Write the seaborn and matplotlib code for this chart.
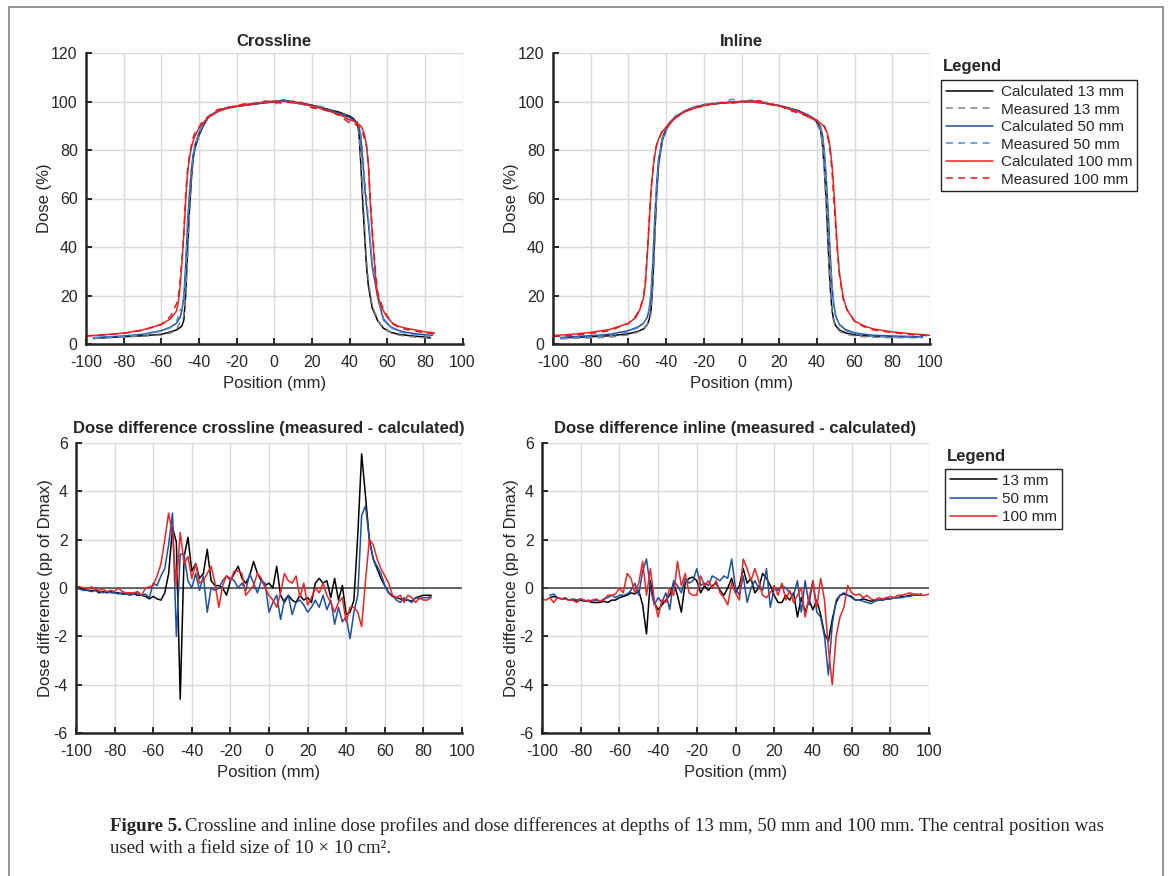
import matplotlib
matplotlib.use("Agg")
import matplotlib.pyplot as plt
import numpy as np
import seaborn as sns
from matplotlib.lines import Line2D

# ---------------- data ----------------
# dose profiles, crossline
XL13_POS = [-96, -90, -80, -70, -60, -55, -52, -50, -49, -48, -47, -46, -45, -44, -43, -42, -40, -38,
            -35, -30, -25, -20, -15, -10, -5, 0, 5, 10, 15, 20, 25, 30, 35, 38, 40, 42, 44, 45, 46,
            47, 48, 49, 50, 52, 55, 58, 62, 66, 70, 75, 80, 83]
XL13_CALC = [2.3, 2.6, 3.0, 3.4, 4.0, 5.0, 5.8, 6.8, 7.5, 10, 21, 40, 56, 68, 77, 81, 86, 89.5,
             93.5, 96, 97.3, 98, 98.5, 99, 99.5, 99.8, 100.5, 99.8, 99.2, 98.5, 97.5, 96.5, 95.5, 94.5, 94, 93, 91, 87, 74,
             58, 45, 32, 24, 15, 9.5, 6.5, 4.8, 4.0, 3.6, 3.2, 2.9, 2.5]
XL13_MEAS = [2.4, 2.6, 2.9, 3.2, 3.7, 4.6, 5.6, 9.3, 9.5, 11.9, 20, 35.4, 55, 69.5, 78, 82.5, 86.7, 90,
             94, 96.2, 97.5, 98.1, 98.9, 99.4, 99.7, 100, 100.8, 99.5, 98.8, 98.2, 97.9, 96.4, 95.1, 94.2, 92.9, 92, 91.3, 88, 77,
             63.5, 49, 35, 26, 15.9, 9.8, 6.7, 4.6, 3.7, 3.3, 2.8, 2.6, 2.2]

XL50_POS = [-96, -90, -80, -70, -60, -55, -52, -50, -49, -48, -47, -46, -45, -44, -43, -42, -40, -38,
            -35, -30, -25, -20, -15, -10, -5, 0, 5, 10, 15, 20, 25, 30, 35, 38, 40, 42, 44, 45, 46,
            47, 48, 49, 50, 52, 55, 58, 62, 66, 70, 75, 80, 84]
XL50_CALC = [2.6, 2.9, 3.3, 4.0, 5.5, 7.0, 8.5, 11, 14, 20, 33, 50, 62, 72, 78, 82, 87, 90,
             93.5, 96, 97.5, 98, 98.5, 99, 99.5, 100, 100.3, 99.8, 99.3, 98.4, 97.3, 96.2, 95, 94, 93.5, 92.5, 91.5, 90, 85,
             76, 65, 57, 50, 32, 19, 10, 7, 5.6, 4.8, 4.2, 3.8, 3.5]
XL50_MEAS = [2.6, 2.8, 3.1, 3.8, 5.3, 6.8, 8.9, 14.1, 14.5, 18, 30, 51.4, 63.4, 72.3, 78.6, 82, 86.6, 90.5,
             93.6, 96.2, 97.5, 98.2, 98.5, 99.6, 99.7, 99, 100, 99.3, 98.8, 97.4, 96.8, 95.6, 94.2, 93, 92.3, 90.4, 90.5, 89.7, 86,
             79, 68, 60.4, 52, 34, 19.9, 10.6, 6.8, 5.1, 4.4, 3.7, 3.4, 3.15]

XL100_POS = [-100, -90, -80, -70, -60, -55, -52, -51, -50, -49, -48, -47, -46, -45, -44, -43, -42, -40,
             -38, -35, -30, -25, -20, -15, -10, -5, 0, 5, 10, 15, 20, 25, 30, 35, 40, 42, 44, 46, 47,
             48, 49, 50, 51, 52, 53, 54, 55, 57, 60, 63, 66, 70, 75, 80, 85]
XL100_CALC = [3.3, 3.8, 4.5, 5.8, 8.0, 10.5, 13.5, 17, 24, 34, 46, 60, 71, 77, 81, 84, 86, 89,
              91, 93.5, 95.8, 97.2, 98, 98.5, 99.2, 99.8, 100.2, 100, 99.6, 99, 98.2, 97, 95.8, 94.5, 92.5, 92, 91, 90, 88.5,
              86, 82, 74, 58, 46, 36, 26, 20, 15, 11, 8.5, 7.3, 6.5, 5.8, 5.0, 4.6]
XL100_MEAS = [3.35, 3.8, 4.4, 5.6, 8.1, 11.5, 16.5, 19, 26.2, 35, 46.1, 62.3, 72, 78, 82, 85.3, 87.3, 89.4,
              92, 93.8, 96.7, 97.4, 98.3, 99.2, 98.9, 100.2, 99.9, 99.2, 100.2, 99.5, 97.5, 96.8, 96.1, 94, 91.1, 91.2, 90.2, 89, 87,
              84.4, 81.5, 74.3, 60, 48, 37.8, 27.8, 21.2, 16.2, 11.5, 8.3, 6.9, 6.0, 5.4, 4.5, 4.2]

# dose profiles, inline
IL_POS = [-96, -90, -80, -70, -60, -55, -52, -50, -49, -48, -47, -46, -45, -44, -42, -40, -38, -35,
          -30, -25, -20, -15, -10, -5, 0, 5, 10, 15, 20, 25, 30, 35, 38, 40, 42, 43, 44, 45, 46, 47,
          48, 49, 50, 52, 55, 60, 65, 70, 80, 90, 96]
IL13_CALC = [2.5, 2.7, 3.0, 3.4, 4.2, 5.2, 6.2, 8, 10, 14, 26, 45, 62, 74, 84, 88.5, 91, 93.5,
             96, 97.5, 98.5, 99, 99.4, 99.7, 100, 100, 99.6, 99, 98.3, 97.3, 96.2, 94.5, 93, 91.5, 88, 82, 72, 58, 40, 24,
             14, 9.5, 7.5, 5.8, 4.6, 3.8, 3.4, 3.2, 3.0, 2.9, 2.8]
IL13_MEAS = [2.1, 2.3, 2.5, 2.8, 3.8, 4.9, 6.0, 7.9, 9.3, 12.5, 24.5, 43.1, 62.2, 73.8, 83.3, 87.8, 90.6, 93.3,
             96.1, 97.7, 98.7, 98.9, 99.6, 99.6, 99.9, 100.6, 99.8, 99.5, 98, 96.9, 96, 93.7, 92.6, 90.7, 87.6, 81, 70.6, 56, 37.8, 22.6,
             13.4, 9.1, 7.2, 5.3, 4.1, 3.4, 3.0, 2.8, 2.6, 2.6, 2.55]
IL50_CALC = [2.7, 3.0, 3.4, 4.0, 5.5, 7.0, 8.5, 11, 14, 20, 34, 52, 66, 76, 85, 89, 91.5, 93.8,
             96.2, 97.6, 98.5, 99, 99.4, 99.7, 100, 100, 99.6, 99, 98.3, 97.3, 96.2, 94.5, 93.2, 92, 89.5, 86, 79, 68, 54, 38,
             24, 16, 11.5, 8, 6, 4.6, 4.0, 3.6, 3.3, 3.1, 3.0]
IL50_MEAS = [2.4, 2.6, 2.9, 3.5, 5.1, 6.7, 8.7, 10.9, 14.7, 21.2, 35.3, 52, 65.3, 75.6, 84.6, 88.6, 91, 94.1,
             95.9, 97.8, 98.9, 99.2, 99.8, 100.9, 100, 99.7, 99.5, 99.1, 98.4, 97.1, 95.8, 94.1, 92.9, 91.1, 89.2, 85, 77.8, 66, 50.4, 36.5,
             23.7, 15.7, 11.2, 7.7, 5.6, 4.2, 3.5, 3.1, 2.9, 2.8, 2.7]

IL100_POS = [-100, -90, -80, -70, -60, -56, -54, -52, -51, -50, -49, -48, -47, -46, -45, -44, -42, -40,
             -38, -35, -30, -25, -20, -15, -10, -5, 0, 5, 10, 15, 20, 25, 30, 35, 40, 42, 44, 45, 46,
             47, 48, 49, 50, 51, 52, 54, 56, 60, 65, 70, 80, 90, 100]
IL100_CALC = [3.5, 4.0, 4.8, 6.0, 8.5, 11, 14, 19, 25, 36, 50, 63, 72, 78, 82, 84.5, 87.5, 89.5,
              91.2, 93.5, 95.8, 97.2, 98.3, 99, 99.4, 99.7, 100, 99.9, 99.5, 99, 98.2, 97, 95.8, 94.2, 92, 91, 89.5, 88, 85.5,
              81, 74, 63, 50, 38, 29, 19, 14, 9.5, 7.5, 6.2, 5.0, 4.2, 3.6]
IL100_MEAS = [3.05, 3.5, 4.3, 5.5, 8.5, 11.6, 14.4, 19.2, 26, 37, 50.3, 63.8, 71.5, 78.8, 82.3, 84.2, 88.1, 88.7,
              90.7, 93.2, 95.8, 97.7, 98, 99.3, 99.4, 99.3, 99.8, 100.2, 100.3, 98.7, 98.3, 96.5, 95.3, 93.9, 92.3, 90.2, 89.9, 87.5, 84.5,
              79.5, 71.5, 59, 48, 36.8, 28.2, 18.2, 14.1, 9.3, 7.1, 5.8, 4.7, 3.9, 3.35]

# dose differences (pp of Dmax), 2 mm sampling
XL_DIFF_POS = np.arange(-100, 85, 2)
XL_DIFF_13 = [0.05, 0.0, -0.05, -0.1, -0.1, -0.1, -0.2, -0.15, -0.2, -0.15,
              -0.2, -0.2, -0.25, -0.25, -0.25, -0.25, -0.3, -0.3, -0.35, -0.45,
              -0.35, -0.45, -0.5, -0.2, 0.6, 2.5, 1.9, -4.6, 1.3, 2.1,
              0.7, 1.0, 0.4, 0.6, 1.6, 0.3, 0.1, 0.1, 0.0, -0.3,
              0.3, 0.6, 0.9, 0.4, 0.2, 0.5, 1.1, 0.6, 0.3, 0.1,
              0.2, 0.0, 0.9, -0.3, -0.6, -0.3, -0.5, -0.6, -0.3, -0.5,
              -0.4, -0.6, 0.2, 0.4, 0.2, 0.3, -0.4, 0.4, -0.5, 0.1,
              -1.1, -1.0, -0.5, 2.2, 5.55, 3.8, 2.0, 1.2, 0.8, 0.4,
              0.1, -0.2, -0.35, -0.4, -0.45, -0.5, -0.5, -0.55, -0.4, -0.35,
              -0.3, -0.3, -0.3]
XL_DIFF_50 = [0.0, -0.05, -0.1, -0.1, -0.15, -0.1, -0.15, -0.2, -0.15, -0.2,
              -0.2, -0.25, -0.2, -0.25, -0.3, -0.25, -0.2, -0.3, -0.25, -0.4,
              0.2, 0.1, 0.5, 0.8, 1.8, 3.1, -2.0, 1.4, 1.4, 0.3,
              0.0, 0.6, -0.1, 0.5, -1.0, 0.0, -0.1, 0.0, 0.3, 0.5,
              0.4, 0.3, 0.0, 0.2, -0.1, 0.6, 0.2, -0.2, 0.3, 0.2,
              -1.0, -0.6, -0.3, -1.3, -0.5, -0.3, -1.1, -0.6, -0.5, -0.7,
              -1.0, -0.8, -0.5, -0.8, -0.3, -0.9, -0.5, -1.5, -0.8, -1.4,
              -1.2, -2.1, -1.0, -0.3, 3.0, 3.4, 2.0, 1.2, 0.9, 0.6,
              0.1, -0.2, -0.3, -0.5, -0.6, -0.4, -0.5, -0.6, -0.4, -0.45,
              -0.4, -0.4, -0.35]
XL_DIFF_100 = [0.05, 0.05, 0.0, -0.05, 0.05, -0.05, -0.1, -0.05, -0.15, -0.1,
               -0.15, 0.0, -0.15, -0.2, -0.2, -0.2, -0.15, -0.3, 0.0, 0.05,
               0.1, 0.5, 1.0, 2.0, 3.1, 2.2, 0.1, 2.3, 1.0, 1.3,
               0.4, 1.0, 0.2, 0.3, 0.6, 0.9, 0.2, -0.8, 0.1, 0.5,
               0.3, 0.7, 0.7, 0.6, -0.3, -0.1, 0.1, 0.6, 0.4, 0.0,
               -0.3, -0.5, -0.8, -0.2, 0.6, 0.3, 0.2, 0.5, -0.4, 0.2,
               -0.7, -0.4, 0.0, -0.2, 0.2, -0.3, -0.6, -1.0, -0.6, -0.4,
               -1.4, -0.8, -0.8, -1.0, -1.6, 0.3, 2.0, 1.8, 1.2, 0.8,
               0.5, 0.2, -0.3, -0.4, -0.3, -0.6, -0.3, -0.4, -0.6, -0.4,
               -0.5, -0.5, -0.4]

IL_DIFF_POS = np.arange(-96, 97, 2)
IL_DIFF_13 = [-0.4, -0.35, -0.4, -0.45, -0.45, -0.5, -0.5, -0.55, -0.5, -0.55,
              -0.55, -0.6, -0.6, -0.6, -0.55, -0.6, -0.5, -0.5, -0.4, -0.35,
              -0.3, -0.2, -0.25, -0.1, -0.7, -1.9, 0.3, -0.6, -0.9, -0.7,
              -0.5, -0.3, 0.2, -0.3, -1.0, 0.2, 0.4, 0.45, 0.3, -0.2,
              0.1, -0.1, 0.1, 0.2, -0.1, -0.3, 0.0, 0.4, -0.2, 0.1,
              0.8, 0.2, 0.4, -0.2, 0.0, 0.6, 0.4, 0.1, -0.3, -0.6,
              -0.6, -0.3, -0.5, -0.2, -1.2, -0.4, -1.0, -0.5, -0.9, -0.5,
              -1.1, -1.9, -2.2, -1.3, -0.6, -0.3, -0.25, -0.3, -0.35, -0.5,
              -0.5, -0.45, -0.5, -0.55, -0.5, -0.5, -0.5, -0.45, -0.45, -0.4,
              -0.4, -0.35, -0.35, -0.3, -0.3, -0.3, -0.25]
IL_DIFF_50 = [-0.3, -0.25, -0.4, -0.45, -0.4, -0.5, -0.45, -0.5, -0.45, -0.55,
              -0.5, -0.55, -0.5, -0.55, -0.45, -0.4, -0.3, -0.4, -0.3, -0.3,
              -0.25, -0.1, 0.2, -0.3, 0.7, 1.2, 0.0, -0.7, -0.4, -0.6,
              -0.2, -0.9, 0.3, 0.1, -0.2, 0.4, 0.2, 0.3, 0.8, 0.1,
              0.2, 0.1, 0.5, 0.4, 0.3, 0.5, 0.4, 1.2, 0.0, -0.3,
              0.5, -0.6, 0.0, 0.3, 0.0, -0.1, 0.8, -0.8, 0.0, -0.1,
              0.1, 0.0, -0.2, -0.3, 0.3, -1.0, 0.3, -0.7, 0.3, -1.0,
              -1.2, -2.0, -3.6, -1.5, -0.5, -0.3, -0.2, -0.3, -0.4, -0.5,
              -0.5, -0.55, -0.6, -0.65, -0.55, -0.5, -0.5, -0.45, -0.45, -0.4,
              -0.4, -0.4, -0.35, -0.35, -0.3, -0.3, -0.3]
IL_DIFF_POS_100 = np.arange(-100, 101, 2)
IL_DIFF_100 = [-0.45, -0.5, -0.4, -0.6, -0.4, -0.45, -0.45, -0.5, -0.5, -0.6,
               -0.45, -0.5, -0.55, -0.5, -0.45, -0.55, -0.5, -0.3, -0.3, -0.25,
               0.0, -0.2, 0.6, 0.4, -0.2, 0.2, 1.1, -0.3, 0.8, -0.5,
               -1.2, -0.5, -0.6, 0.0, -0.3, 1.1, 0.1, 0.6, -0.2, -0.3,
               -0.3, 0.5, 0.1, 0.3, 0.0, 0.3, -0.2, -0.4, -0.7, 0.2,
               -0.2, -0.5, 1.2, 0.8, 0.3, 0.8, 0.3, -0.3, -0.4, -0.2,
               0.1, -0.3, 0.2, -0.5, -0.1, -0.6, -0.3, 0.0, -1.2, -0.4,
               0.3, -0.8, 0.4, -0.5, -2.5, -4.0, -2.0, -1.2, -0.8, 0.1,
               -0.2, -0.3, -0.25, -0.4, -0.3, -0.45, -0.5, -0.4, -0.45, -0.4,
               -0.35, -0.4, -0.3, -0.3, -0.25, -0.2, -0.25, -0.25, -0.3, -0.3,
               -0.25]

PROFILE_LABELS = ["Calculated 13 mm", "Measured 13 mm", "Calculated 50 mm",
                  "Measured 50 mm", "Calculated 100 mm", "Measured 100 mm"]
DIFF_LABELS = ["13 mm", "50 mm", "100 mm"]

BLACK = "#000000"
GREY = "#808080"
BLUE = "#1f4f9f"
LIGHT_BLUE = "#4f8ad8"
RED = "#ee2424"
RED_DASH = "#e31a1c"
DASH = (0, (4.5, 3.5))

W, H = 1171, 876
TICK_FS = 11.5
LABEL_FS = 12
TITLE_FS = 12
LEGEND_FS = 11

sns.set_theme(style="whitegrid")
plt.rcParams["font.family"] = ["Liberation Sans", "DejaVu Sans"]
plt.rcParams["axes.unicode_minus"] = False

fig = plt.figure(figsize=(W / 100, H / 100), dpi=100)
fig.patch.set_facecolor("white")


def px_axes(left, top, right, bottom):
    return fig.add_axes([left / W, 1 - bottom / H, (right - left) / W, (bottom - top) / H])


def line(ax, x, y, color, dashed=False):
    sns.lineplot(x=x, y=y, ax=ax, color=color, linewidth=1.1, sort=False,
                 estimator=None, legend=False, linestyle=DASH if dashed else "-")
    return ax.lines[-1]


def style(ax, ylim, yticks, ylabel, title, ylab_x, title_pad):
    ax.set_facecolor("white")
    ax.set_xlim(-100, 100)
    ax.set_xticks(range(-100, 101, 20))
    ax.set_ylim(*ylim)
    ax.set_yticks(yticks)
    ax.grid(True, color="#d9d9d9", linewidth=1.0)
    ax.set_axisbelow(True)
    for s in ["top", "right"]:
        ax.spines[s].set_visible(False)
    for s in ["left", "bottom"]:
        ax.spines[s].set_visible(True)
        ax.spines[s].set_color("#262626")
        ax.spines[s].set_linewidth(1.8)
    ax.tick_params(direction="in", length=4, width=1.4, colors="#262626",
                   labelsize=TICK_FS, bottom=True, left=True)
    ax.tick_params(axis="x", pad=8)
    ax.tick_params(axis="y", pad=6)
    ax.set_xlabel("Position (mm)", fontsize=LABEL_FS, color="#262626")
    ax.set_ylabel(ylabel, fontsize=LABEL_FS, color="#262626")
    ax.xaxis.set_label_coords(0.5, -0.11)
    ax.yaxis.set_label_coords(ylab_x, 0.5)
    ax.set_title(title, fontsize=TITLE_FS, fontweight="bold", pad=title_pad)


# ---------------- profiles ----------------
ax1 = px_axes(86, 53, 462.5, 344)
ax2 = px_axes(553, 53, 930, 344)

for ax, curves in [
    (ax1, [(XL13_POS, XL13_CALC, XL13_MEAS), (XL50_POS, XL50_CALC, XL50_MEAS),
           (XL100_POS, XL100_CALC, XL100_MEAS)]),
    (ax2, [(IL_POS, IL13_CALC, IL13_MEAS), (IL_POS, IL50_CALC, IL50_MEAS),
           (IL100_POS, IL100_CALC, IL100_MEAS)]),
]:
    handles = []
    for (pos, calc, meas), c_solid, c_dash in zip(curves, [BLACK, BLUE, RED],
                                                   [GREY, LIGHT_BLUE, RED_DASH]):
        handles.append(line(ax, pos, calc, c_solid))
        handles.append(line(ax, pos, meas, c_dash, dashed=True))

style(ax1, (0, 120), range(0, 121, 20), "Dose (%)", "Crossline", -0.09, 5)
style(ax2, (0, 120), range(0, 121, 20), "Dose (%)", "Inline", -0.09, 5)

leg1 = fig.legend(handles, PROFILE_LABELS, loc="upper left",
                  bbox_to_anchor=(941 / W, 1 - 80.5 / H), bbox_transform=fig.transFigure,
                  frameon=True, fancybox=False, edgecolor="#262626", framealpha=1,
                  handlelength=3.1, handletextpad=0.55, borderpad=0.3, labelspacing=0.23,
                  borderaxespad=0, fontsize=LEGEND_FS)
leg1.get_frame().set_linewidth(1.0)
fig.text(943 / W, 1 - 66 / H, "Legend", fontsize=TITLE_FS, fontweight="bold", va="center")

# ---------------- differences ----------------
ax3 = px_axes(76, 443, 462, 733)
ax4 = px_axes(542, 443, 929, 733)

for ax in (ax3, ax4):
    ax.axhline(0, color="#404040", linewidth=1.1, zorder=1)

h3 = [line(ax3, XL_DIFF_POS, XL_DIFF_13, BLACK),
      line(ax3, XL_DIFF_POS, XL_DIFF_50, BLUE),
      line(ax3, XL_DIFF_POS, XL_DIFF_100, RED)]
line(ax4, IL_DIFF_POS, IL_DIFF_13, BLACK)
line(ax4, IL_DIFF_POS, IL_DIFF_50, BLUE)
line(ax4, IL_DIFF_POS_100, IL_DIFF_100, RED)

style(ax3, (-6, 6), range(-6, 7, 2), "Dose difference (pp of Dmax)",
      "Dose difference crossline (measured - calculated)", -0.059, 7)
style(ax4, (-6, 6), range(-6, 7, 2), "Dose difference (pp of Dmax)",
      "Dose difference inline (measured - calculated)", -0.059, 7)

leg2 = fig.legend(h3, DIFF_LABELS, loc="upper left",
                  bbox_to_anchor=(945 / W, 1 - 469 / H), bbox_transform=fig.transFigure,
                  frameon=True, fancybox=False, edgecolor="#262626", framealpha=1,
                  handlelength=3.1, handletextpad=0.35, borderpad=0.3, labelspacing=0.28,
                  borderaxespad=0, fontsize=LEGEND_FS)
leg2.get_frame().set_linewidth(1.0)
fig.text(947 / W, 1 - 456 / H, "Legend", fontsize=TITLE_FS, fontweight="bold", va="center")

# ---------------- caption ----------------
serif = ["Liberation Serif", "DejaVu Serif"]
cap_size = 13.6
t_bold = fig.text(110 / W, 1 - 831 / H, "Figure 5.", fontsize=cap_size, fontweight="bold",
                  family=serif, va="baseline")
fig.canvas.draw()
renderer = fig.canvas.get_renderer()
bw = t_bold.get_window_extent(renderer).width
fig.text((110 + bw + 3) / W, 1 - 831 / H,
         "Crossline and inline dose profiles and dose differences at depths of 13 mm, 50 mm "
         "and 100 mm. The central position was",
         fontsize=cap_size, family=serif, va="baseline")
fig.text(110 / W, 1 - 853 / H, "used with a field size of 10 \u00d7 10 cm\u00b2.",
         fontsize=cap_size, family=serif, va="baseline")

# ---------------- page frame ----------------
frame_kw = dict(color="#8c8c8c", linewidth=1.3, transform=fig.transFigure)
fig.add_artist(Line2D([8.5 / W, 8.5 / W], [0, 1 - 7 / H], **frame_kw))
fig.add_artist(Line2D([8.5 / W, 1163 / W], [1 - 7 / H, 1 - 7 / H], **frame_kw))
fig.add_artist(Line2D([1163 / W, 1163 / W], [0, 1 - 7 / H], **frame_kw))

fig.savefig("out.png", dpi=100, facecolor="white")
